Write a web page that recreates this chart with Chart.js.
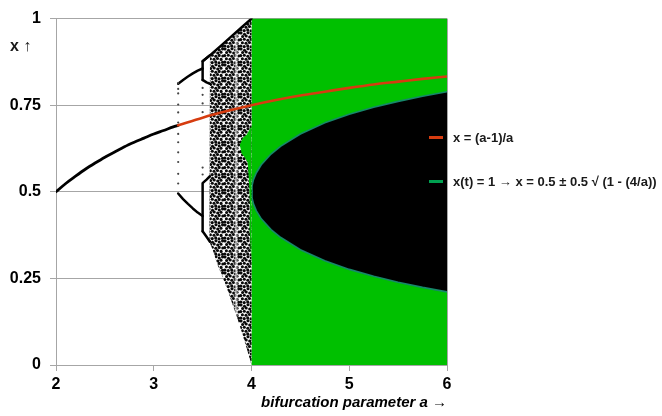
<!DOCTYPE html>
<html>
<head>
<meta charset="utf-8">
<script src="https://cdn.jsdelivr.net/npm/chart.js@4.4.1/dist/chart.umd.min.js"></script>
<style>
html,body{margin:0;padding:0;background:#fff;}
canvas{display:block;}
</style>
</head>
<body>
<canvas id="c" width="662" height="416"></canvas>
<script>
// ---- data ----
const xTicks = [2, 3, 4, 5, 6];
const yTicks = [0, 0.25, 0.5, 0.75, 1];

// stable fixed point (black part of the curve), a = 2 .. 3.25
const fixedA = [2, 2.1, 2.2, 2.3, 2.4, 2.5, 2.6, 2.7, 2.8, 2.9, 3, 3.1, 3.2, 3.25];
const fixedX = [0.5, 0.524, 0.545, 0.565, 0.583, 0.6, 0.615, 0.63, 0.643, 0.655, 0.667, 0.677, 0.6875, 0.692];

// x = (a-1)/a (red), a = 3.25 .. 6
const ratioA = [3.25, 3.5, 3.75, 4, 4.25, 4.5, 4.75, 5, 5.25, 5.5, 5.75, 6];
const ratioX = [0.692, 0.714, 0.733, 0.75, 0.765, 0.778, 0.789, 0.8, 0.81, 0.818, 0.826, 0.833];

// period-2 branches
const p2UpA = [3.25, 3.3, 3.35, 3.4, 3.45, 3.5];
const p2UpX = [0.812, 0.823, 0.833, 0.842, 0.85, 0.856];
const p2LoA = [3.25, 3.3, 3.35, 3.4, 3.45, 3.5];
const p2LoX = [0.495, 0.479, 0.465, 0.452, 0.44, 0.43];

// period-4 pieces (upper box and lower box)
const p4UpTopA = [3.5, 3.5, 3.54, 3.575];
const p4UpTopX = [0.823, 0.877, 0.886, 0.894];
const p4UpBotA = [3.5, 3.54, 3.575];
const p4UpBotX = [0.823, 0.816, 0.812];
const p4LoTopA = [3.5, 3.5, 3.54, 3.575];
const p4LoTopX = [0.386, 0.525, 0.535, 0.545];
const p4LoBotA = [3.5, 3.54, 3.575];
const p4LoBotX = [0.386, 0.37, 0.356];

// chaotic band envelope
const chaosTopA = [3.5, 3.575, 3.6, 3.7, 3.8, 3.9, 4];
const chaosTopX = [0.877, 0.894, 0.9, 0.925, 0.95, 0.975, 1];
const chaosBotA = [4, 3.95, 3.9, 3.85, 3.8, 3.75, 3.7, 3.65, 3.6, 3.57];
const chaosBotX = [0, 0.049, 0.095, 0.139, 0.18, 0.22, 0.257, 0.291, 0.335, 0.355];

// period-3 window (lighter column)
const windowA = [3.828, 3.858];
const windowTop = [0.955, 0.96];
const windowBot = [0.15, 0.14];

// green patches reaching into the chaotic band near a = 4
const patchA = [4, 3.98, 3.95, 3.91, 3.88, 3.9, 3.93, 3.96, 3.97, 3.98, 3.985, 3.98, 3.99, 4];
const patchX = [0.69, 0.68, 0.665, 0.655, 0.635, 0.61, 0.6, 0.585, 0.55, 0.5, 0.45, 0.4, 0.34, 0.3];

// transient dots
const transA = [3.25, 3.25, 3.25, 3.25, 3.25, 3.25, 3.25, 3.25, 3.25, 3.25, 3.25, 3.25, 3.5, 3.5, 3.5, 3.5, 3.5, 3.5];
const transX = [0.814, 0.797, 0.784, 0.752, 0.729, 0.7, 0.667, 0.643, 0.614, 0.586, 0.552, 0.524, 0.8, 0.78, 0.755, 0.73, 0.57, 0.55];

// escape region a = 4 .. 6: x(t)=1 boundary, x = 0.5 ± 0.5 √(1 - 4/a)
const escA = [4, 4.005, 4.02, 4.05, 4.1, 4.2, 4.3, 4.5, 4.75, 5, 5.25, 5.5, 5.75, 6];
const escUp = [0.5, 0.517, 0.535, 0.555, 0.578, 0.609, 0.632, 0.667, 0.699, 0.724, 0.744, 0.761, 0.776, 0.789];
const escLo = [0.5, 0.483, 0.465, 0.445, 0.422, 0.391, 0.368, 0.333, 0.301, 0.276, 0.256, 0.239, 0.224, 0.211];

// ---- helpers ----
const zip = (a, b) => a.map((v, i) => ({x: v, y: b[i]}));
const GREEN = '#00c000';
const RED = '#d63c10';
const TEAL = '#16886a';
const GRID = '#a6a6a6';
const FONT = "'Liberation Sans', Arial, sans-serif";

function speckle() {
  const t = document.createElement('canvas');
  t.width = 16; t.height = 16;
  const g = t.getContext('2d');
  g.fillStyle = '#fff'; g.fillRect(0, 0, 16, 16);
  g.fillStyle = '#0a0a0a';
  const dots = [[1,1],[4.5,2.2],[8,0.7],[11.3,2],[14.6,0.9],[2.6,4.5],[6.2,4],[9.7,5],[13,4.2],
    [0.7,7.6],[4.3,7.2],[7.8,8.3],[11.2,7.4],[14.8,8],[2.4,10.8],[6,11.2],[9.5,10.5],[13.1,11.4],
    [0.9,14],[4.2,14.6],[7.7,13.9],[11,14.8],[14.5,14.2]];
  for (const [x, y] of dots) {
    for (const dx of [-16, 0, 16]) for (const dy of [-16, 0, 16]) {
      g.beginPath(); g.arc(x + dx, y + dy, 1.55, 0, Math.PI * 2); g.fill();
    }
  }
  return g.createPattern(t, 'repeat');
}

const ctx = document.getElementById('c').getContext('2d');
const pattern = speckle();

const lineDs = (data, color, width, order, extra) => Object.assign({
  data, borderColor: color, borderWidth: width, pointRadius: 0, fill: false,
  order, borderJoinStyle: 'round', borderCapStyle: 'round', tension: 0
}, extra || {});
const shapeDs = (data, color, order) => ({
  data, backgroundColor: color, borderWidth: 0, borderColor: 'rgba(0,0,0,0)',
  pointRadius: 0, fill: 'shape', order, tension: 0
});

const escPoly = zip(escA, escUp).concat(zip(escA.slice().reverse(), escLo.slice().reverse()));
const chaosPoly = zip(chaosTopA.slice(1), chaosTopX.slice(1)).concat(zip(chaosBotA, chaosBotX));
const windowPoly = zip(windowA, windowTop).concat(zip(windowA.slice().reverse(), windowBot.slice().reverse()));

const legendPlugin = {
  id: 'customText',
  afterDraw(chart) {
    const c = chart.ctx;
    c.save();
    c.lineCap = 'butt';
    c.lineWidth = 3;
    c.strokeStyle = RED;
    c.beginPath(); c.moveTo(429, 137.5); c.lineTo(443, 137.5); c.stroke();
    c.strokeStyle = '#00a050';
    c.beginPath(); c.moveTo(429, 181.5); c.lineTo(443, 181.5); c.stroke();
    c.fillStyle = '#1a1a1a';
    c.font = 'bold 13px ' + FONT;
    c.textBaseline = 'middle';
    c.textAlign = 'left';
    c.fillText('x = (a-1)/a', 453, 138);
    c.fillText('x(t) = 1 \u2192 x = 0.5 \u00b1 0.5 \u221a (1 - (4/a))', 453, 182);
    c.font = 'bold 16px ' + FONT;
    c.fillText('x \u2191', 10, 47);
    c.restore();
  }
};

new Chart(ctx, {
  type: 'line',
  data: {
    datasets: [
      shapeDs([{x:4,y:0},{x:4,y:1},{x:6,y:1},{x:6,y:0}], GREEN, 30),
      shapeDs(escPoly, '#000', 29),
      lineDs(zip(escA, escUp), TEAL, 1.6, 28),
      lineDs(zip(escA, escLo), TEAL, 1.6, 28),
      shapeDs(chaosPoly, pattern, 26),
      shapeDs(windowPoly, 'rgba(255,255,255,0.55)', 25),
      shapeDs(zip(patchA, patchX), GREEN, 24),
      lineDs(zip(chaosTopA, chaosTopX), '#000', 2.4, 22),
      lineDs(zip(p2UpA, p2UpX), '#000', 2.5, 20),
      lineDs(zip(p2LoA, p2LoX), '#000', 2.5, 20),
      lineDs(zip(p4UpTopA, p4UpTopX), '#000', 2.5, 20),
      lineDs(zip(p4UpBotA, p4UpBotX), '#000', 2.5, 20),
      lineDs(zip(p4LoTopA, p4LoTopX), '#000', 2.5, 20),
      lineDs(zip(p4LoBotA, p4LoBotX), '#000', 2.5, 20),
      {data: zip(transA, transX), showLine: false, pointRadius: 1.1, pointBorderWidth: 0,
       pointBackgroundColor: '#444', borderColor: '#444', order: 18},
      lineDs(zip(fixedA, fixedX), '#000', 2.8, 4, {cubicInterpolationMode: 'monotone'}),
      lineDs(zip(ratioA, ratioX), RED, 2.6, 2, {cubicInterpolationMode: 'monotone'})
    ]
  },
  options: {
    responsive: false,
    animation: false,
    events: [],
    layout: {padding: {left: 0, right: 215, top: 15, bottom: 0}},
    plugins: {legend: {display: false}, tooltip: {enabled: false}, title: {display: false}},
    scales: {
      x: {
        type: 'linear', min: 2, max: 6, z: 1,
        afterBuildTicks: s => { s.ticks = xTicks.map(v => ({value: v})); },
        afterFit: s => { s.height = 51; },
        grid: {
          drawOnChartArea: true, drawTicks: true, tickLength: 6,
          color: c => (c.tick && c.tick.value === 6) ? GRID : 'rgba(0,0,0,0)',
          tickColor: GRID, lineWidth: 1
        },
        border: {display: true, color: GRID, width: 1},
        ticks: {color: '#000', padding: 4, font: {family: FONT, size: 16, weight: 'bold'}, maxRotation: 0},
        title: {display: true, text: 'bifurcation parameter a \u2192', align: 'end', color: '#000',
                padding: {top: 0, bottom: 4}, font: {family: FONT, size: 15, weight: 'bold', style: 'italic'}}
      },
      y: {
        type: 'linear', min: 0, max: 1, z: 1,
        afterBuildTicks: s => { s.ticks = yTicks.map(v => ({value: v})); },
        afterFit: s => { s.width = 56; },
        grid: {color: GRID, tickColor: GRID, tickLength: 6, lineWidth: 1},
        border: {display: true, color: GRID, width: 1},
        ticks: {color: '#000', padding: 9, font: {family: FONT, size: 16, weight: 'bold'},
                callback: v => String(v)}
      }
    }
  },
  plugins: [legendPlugin]
});
</script>
</body>
</html>
